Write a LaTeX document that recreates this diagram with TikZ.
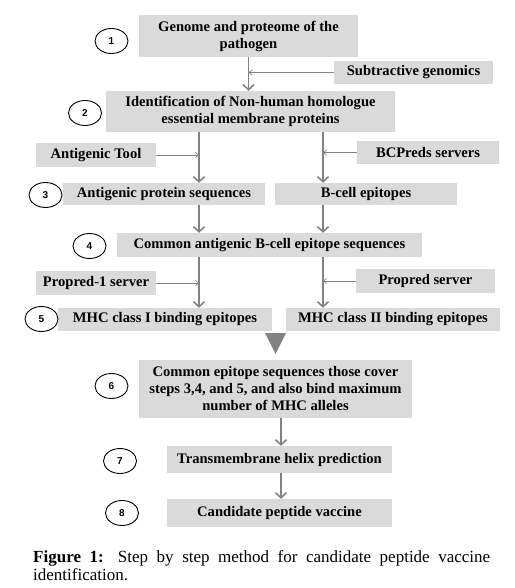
\documentclass[tikz,border=0pt]{standalone}
\usepackage{fontspec}
\setmainfont{Liberation Serif}
\newfontfamily\arialfont{Liberation Sans}
\usetikzlibrary{arrows.meta,shapes.geometric}
\definecolor{boxgray}{RGB}{218,218,218}
\definecolor{arrowgray}{RGB}{130,130,130}
\begin{document}
\begin{tikzpicture}[x=1pt,y=-1pt,
    box/.style={fill=boxgray,inner sep=0pt,align=center,font=\fontsize{14.6}{17}\selectfont\bfseries},
    num/.style={draw,ellipse,line width=0.9pt,minimum width=33pt,minimum height=25pt,inner sep=0pt,font=\arialfont\fontsize{10}{12}\selectfont\bfseries},
    main/.style={draw=arrowgray,line width=1.6pt,-{Straight Barb[length=5pt,width=11pt]}},
    side/.style={draw=arrowgray,line width=0.7pt,-{Straight Barb[length=3pt,width=5pt]}}]
    \useasboundingbox (0,0) rectangle (514,588);
    % columns of the down arrows
    \coordinate (xl) at (199,0);
    \coordinate (xr) at (323,0);
    \coordinate (xm) at (281,0);
    % steps
    \node[box,minimum width=219pt,minimum height=42pt] (genome) at (248.5,36) {Genome and proteome of the\\pathogen};
    \node[box,minimum width=159pt,minimum height=23pt] (subtr) at (413.5,72.5) {Subtractive genomics};
    \node[box,minimum width=289pt,minimum height=41pt] (nonhuman) at (250.5,111.5) {Identification of Non-human homologue\\essential membrane proteins};
    \node[box,minimum width=120pt,minimum height=24pt] (antool) at (96,155) {Antigenic Tool};
    \node[box,minimum width=142pt,minimum height=23pt] (bcpreds) at (428,152.5) {BCPreds servers};
    \node[box,minimum width=202pt,minimum height=22pt] (antseq) at (164,194) {Antigenic protein sequences};
    \node[box,minimum width=182pt,minimum height=22pt] (bcell) at (366,194) {B-cell epitopes};
    \node[box,minimum width=305pt,minimum height=24pt] (common) at (269.5,245) {Common antigenic B-cell epitope sequences};
    \node[box,minimum width=120pt,minimum height=24pt] (propredI) at (96,283) {Propred-1 server};
    \node[box,minimum width=139pt,minimum height=24pt] (propred) at (425.5,281) {Propred server};
    \node[box,minimum width=214pt,minimum height=23pt] (mhcI) at (165,319.5) {MHC class I binding epitopes};
    \node[box,minimum width=214pt,minimum height=23pt] (mhcII) at (393,319.5) {MHC class II binding epitopes};
    \node[box,minimum width=273pt,minimum height=58pt] (cover) at (275.5,389) {Common epitope sequences those cover\\steps 3,4, and 5, and also bind maximum\\number of MHC alleles};
    \node[box,minimum width=225pt,minimum height=27pt] (helix) at (279.5,459.5) {Transmembrane helix prediction};
    \node[box,minimum width=225pt,minimum height=28pt] (vaccine) at (279.5,513) {Candidate peptide vaccine};
    % step numbers
    \node[num] (n1) at (111.5,41) {1};
    \node[num] (n2) at (85,113) {2};
    \node[num] (n3) at (45.5,195) {3};
    \node[num] (n4) at (89.5,246) {4};
    \node[num] (n5) at (41.5,319) {5};
    \node[num] (n6) at (111.5,386) {6};
    \node[num] (n7) at (120,461) {7};
    \node[num] (n8) at (122,513) {8};
    % arrows
    \draw[main] (genome.south) -- (genome.south |- nonhuman.north);
    \draw[side] (subtr.west) -- (subtr.west -| genome.south);
    \draw[main] (nonhuman.south -| xl) -- (antseq.north -| xl);
    \draw[main] (nonhuman.south -| xr) -- (bcell.north -| xr);
    \draw[side] (antool.east) -- (antool.east -| xl);
    \draw[side] (bcpreds.west) -- (bcpreds.west -| xr);
    \draw[main] (antseq.south -| xl) -- (common.north -| xl);
    \draw[main] (bcell.south -| xr) -- (common.north -| xr);
    \draw[main] (common.south -| xl) -- (mhcI.north -| xl);
    \draw[main] (common.south -| xr) -- (mhcII.north -| xr);
    \draw[side] (propredI.east) -- (propredI.east -| xl);
    \draw[side] (propred.west) -- (propred.west -| xr);
    \fill[arrowgray] (265,333) -- (286,333) -- (275.5,354) -- cycle;
    \draw[main] (cover.south -| xm) -- (helix.north -| xm);
    \draw[main] (helix.south -| xm) -- (vaccine.north -| xm);
    % caption
    \node[anchor=north west,inner sep=0pt,text width=457pt,align=justify,font=\fontsize{17}{18.5}\selectfont] (caption) at (33,550)
        {{\bfseries Figure 1:} Step by step method for candidate peptide vaccine \mbox{identification.}};
\end{tikzpicture}
\end{document}
